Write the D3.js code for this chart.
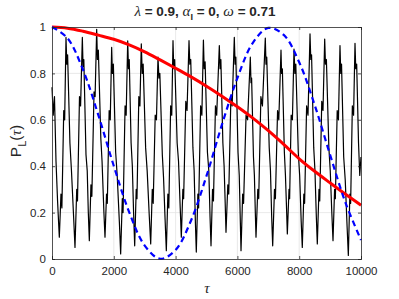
<!DOCTYPE html>
<html>
<head>
<meta charset="utf-8">
<script src="https://cdn.jsdelivr.net/npm/d3@7"></script>
<style>
  body { margin: 0; background: #fff; }
  text { font-family: "Liberation Sans", Arial, Helvetica, sans-serif; fill: #262626; }
</style>
</head>
<body>
<svg width="399" height="299"></svg>
<script>
var xTicks = [0, 2000, 4000, 6000, 8000, 10000];
var yTicks = [0, 0.2, 0.4, 0.6, 0.8, 1];

// red curve (slow decay)
var redTau = [0, 500, 1000, 1500, 2000, 2500, 3000, 3500, 4000, 4500, 5000,
              5500, 6000, 6500, 7000, 7500, 8000, 8500, 9000, 9500, 10000];
var redP = [1.0, 0.995, 0.982, 0.965, 0.947, 0.923, 0.893, 0.858, 0.822, 0.785, 0.745,
            0.702, 0.656, 0.607, 0.553, 0.494, 0.432, 0.378, 0.328, 0.279, 0.232];

// blue dashed curve
var blueTau = [0, 500, 1000, 1500, 2000, 2500, 3000, 3500, 4000, 4500, 5000,
               5500, 6000, 6500, 7000, 7500, 8000, 8500, 9000, 9500, 10000];
var blueP = [1.0, 0.952, 0.817, 0.62, 0.401, 0.201, 0.058, 0.001, 0.039, 0.166, 0.358,
             0.579, 0.78, 0.932, 0.996, 0.966, 0.848, 0.664, 0.449, 0.242, 0.082];

// black curve (fast oscillation), [tau, P]
var blackPts = [
  [0,.74],[40,.62],[80,.7],[130,.42],[180,.25],[237,.094],
  [290,.28],[320,.22],[380,.64],[410,.6],[453,.955],
  [478,.84],[505,.88],[580,.5],[630,.38],[700,.18],[744,.05],
  [800,.3],[825,.25],[890,.7],[925,.66],[982,.955],
  [1005,.83],[1030,.86],[1100,.45],[1140,.38],[1175,.2],[1208,.079],
  [1260,.32],[1290,.27],[1360,.72],[1395,.7],[1446,.99],
  [1470,.86],[1500,.9],[1580,.52],[1620,.42],[1680,.2],[1715,.094],
  [1765,.28],[1790,.24],[1850,.64],[1885,.6],[1931,.912],
  [1955,.8],[1985,.84],[2060,.46],[2110,.36],[2180,.16],[2222,.022],
  [2275,.26],[2300,.2],[2365,.66],[2400,.62],[2450,.94],
  [2475,.82],[2500,.86],[2560,.5],[2600,.4],[2640,.2],[2676,.057],
  [2725,.3],[2750,.26],[2810,.7],[2845,.66],[2890,.927],
  [2920,.8],[2950,.84],[3030,.48],[3080,.38],[3150,.18],[3194,.065],
  [3245,.3],[3275,.24],[3340,.62],[3380,.6],[3430,.87],
  [3460,.78],[3490,.8],[3570,.45],[3610,.35],[3660,.17],[3700,.036],
  [3750,.28],[3780,.22],[3840,.66],[3875,.62],[3916,.941],
  [3940,.82],[3970,.86],[4050,.5],[4095,.42],[4150,.22],[4185,.094],
  [4235,.3],[4260,.26],[4330,.68],[4370,.64],[4434,.941],
  [4460,.84],[4490,.86],[4560,.48],[4600,.38],[4640,.16],[4670,.03],
  [4720,.28],[4745,.22],[4810,.66],[4850,.62],[4900,.944],
  [4925,.82],[4955,.85],[5030,.46],[5075,.38],[5115,.18],[5146,.057],
  [5195,.3],[5225,.25],[5290,.66],[5330,.62],[5415,.92],
  [5440,.82],[5465,.86],[5530,.5],[5570,.4],[5605,.24],[5631,.115],
  [5690,.32],[5720,.28],[5790,.7],[5830,.66],[5900,.955],
  [5925,.84],[5950,.87],[6020,.46],[6060,.36],[6095,.16],[6117,.036],
  [6170,.28],[6200,.24],[6280,.62],[6330,.6],[6418,.87],
  [6440,.76],[6460,.78],[6520,.44],[6550,.36],[6580,.2],[6602,.094],
  [6660,.3],[6690,.26],[6760,.7],[6810,.66],[6903,.952],
  [6925,.84],[6950,.87],[7030,.48],[7070,.38],[7110,.18],[7142,.057],
  [7200,.3],[7230,.26],[7300,.64],[7340,.6],[7411,.9],
  [7430,.8],[7455,.82],[7520,.46],[7555,.36],[7590,.22],[7616,.108],
  [7670,.3],[7690,.26],[7740,.62],[7780,.6],[7832,.905],
  [7860,.8],[7890,.84],[7970,.46],[8015,.36],[8065,.16],[8100,.05],
  [8150,.28],[8175,.24],[8240,.66],[8285,.62],[8350,.97],
  [8375,.86],[8400,.88],[8470,.48],[8510,.38],[8555,.18],[8586,.065],
  [8640,.3],[8665,.25],[8730,.68],[8770,.64],[8825,.948],
  [8850,.84],[8880,.86],[8960,.48],[9005,.38],[9055,.2],[9094,.079],
  [9145,.3],[9170,.26],[9230,.64],[9270,.6],[9320,.92],
  [9345,.8],[9370,.84],[9440,.44],[9490,.34],[9550,.14],[9590,.015],
  [9640,.28],[9665,.24],[9720,.66],[9760,.62],[9806,.93],
  [9830,.82],[9860,.84],[9920,.5],[9960,.36],[10000,.44]
];

var svg = d3.select("svg");
var pLeft = 52, pRight = 361, pTop = 27, pBottom = 259;

var x = d3.scaleLinear().domain([0, 10000]).range([pLeft, pRight]);
var y = d3.scaleLinear().domain([0, 1]).range([pBottom, pTop]);

// grid
svg.append("g").selectAll("line").data(xTicks.slice(1, -1)).enter().append("line")
  .attr("x1", function(d) { return x(d); }).attr("x2", function(d) { return x(d); })
  .attr("y1", pTop).attr("y2", pBottom)
  .attr("stroke", "#e3e3e3").attr("stroke-width", 0.8);
svg.append("g").selectAll("line").data(yTicks.slice(1, -1)).enter().append("line")
  .attr("y1", function(d) { return y(d); }).attr("y2", function(d) { return y(d); })
  .attr("x1", pLeft).attr("x2", pRight)
  .attr("stroke", "#e3e3e3").attr("stroke-width", 0.8);

// series
var lineXY = d3.line()
  .x(function(d) { return x(d[0]); })
  .y(function(d) { return y(d[1]); });
svg.append("path").datum(blackPts)
  .attr("d", lineXY)
  .attr("fill", "none").attr("stroke", "#000").attr("stroke-width", 1.2)
  .attr("stroke-linejoin", "round");

var redData = redTau.map(function(t, i) { return [t, redP[i]]; });
svg.append("path").datum(redData)
  .attr("d", lineXY.curve(d3.curveCatmullRom))
  .attr("fill", "none").attr("stroke", "#ff0000").attr("stroke-width", 3);

var blueData = blueTau.map(function(t, i) { return [t, blueP[i]]; });
svg.append("path").datum(blueData)
  .attr("d", lineXY.curve(d3.curveCatmullRom))
  .attr("fill", "none").attr("stroke", "#0000ff").attr("stroke-width", 2.2)
  .attr("stroke-dasharray", "6,4");

// axes (matlab box, ticks inward on all sides)
svg.append("g").attr("transform", "translate(0," + pBottom + ")")
  .call(d3.axisBottom(x).tickValues(xTicks).tickSize(-3).tickPadding(8).tickFormat(d3.format("d")));
svg.append("g").attr("transform", "translate(" + pLeft + ",0)")
  .call(d3.axisLeft(y).tickValues(yTicks).tickSize(-3).tickPadding(6).tickFormat(function(d) { return d3.format("")(d); }));
svg.append("g").attr("transform", "translate(0," + pTop + ")")
  .call(d3.axisTop(x).tickValues(xTicks).tickSize(-3).tickFormat(""));
svg.append("g").attr("transform", "translate(" + pRight + ",0)")
  .call(d3.axisRight(y).tickValues(yTicks).tickSize(-3).tickFormat(""));

svg.selectAll(".domain").attr("stroke", "#262626").attr("stroke-width", 0.8);
svg.selectAll(".tick line").attr("stroke", "#262626").attr("stroke-width", 0.8);
svg.selectAll(".tick text").attr("font-size", 11.5).attr("fill", "#262626")
  .style("font-family", "'Liberation Sans', Arial, sans-serif");

// title
var title = svg.append("text").attr("x", 205).attr("y", 16)
  .attr("text-anchor", "middle").attr("font-size", 13.5).attr("font-weight", "bold");
title.append("tspan").attr("font-style", "italic").attr("font-weight", "normal")
  .style("font-family", "'Liberation Serif', serif").attr("font-size", 15).text("λ");
title.append("tspan").text(" = 0.9, ");
title.append("tspan").attr("font-style", "italic").attr("font-weight", "normal")
  .style("font-family", "'Liberation Serif', serif").attr("font-size", 15).text("α");
title.append("tspan").attr("font-size", 9).attr("dy", 3.5).text("I");
title.append("tspan").attr("dy", -3.5).text(" = 0, ");
title.append("tspan").attr("font-style", "italic").attr("font-weight", "normal")
  .style("font-family", "'Liberation Serif', serif").attr("font-size", 15).text("ω");
title.append("tspan").text(" = 0.71");

// y label
var ylab = svg.append("text").attr("transform", "translate(21,141) rotate(-90)")
  .attr("text-anchor", "middle").attr("font-size", 15.5);
ylab.append("tspan").text("P");
ylab.append("tspan").attr("font-size", 11).attr("dy", 4.5).text("L");
ylab.append("tspan").attr("dy", -4.5).text("(");
ylab.append("tspan").attr("font-style", "italic").style("font-family", "'Liberation Serif', serif").text("τ");
ylab.append("tspan").text(")");

// x label
svg.append("text").attr("x", 207).attr("y", 293).attr("text-anchor", "middle")
  .attr("font-size", 15).attr("font-style", "italic")
  .style("font-family", "'Liberation Serif', serif").text("τ");
</script>
</body>
</html>
